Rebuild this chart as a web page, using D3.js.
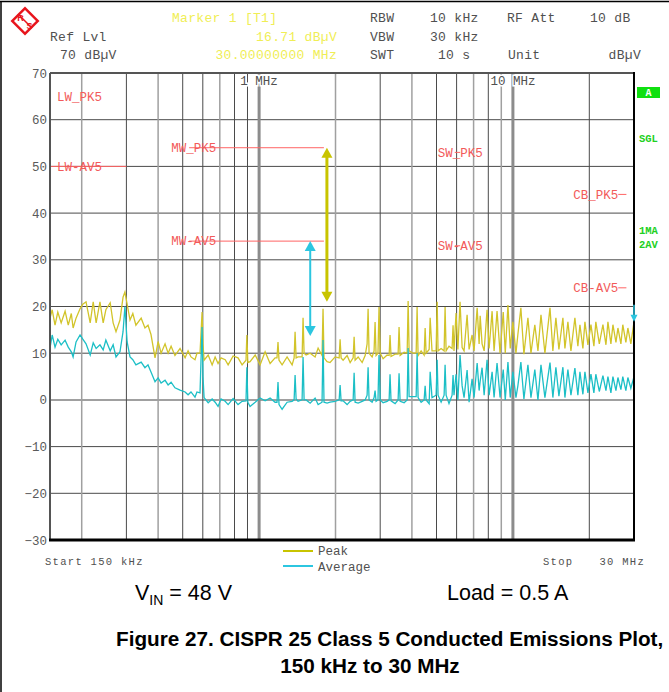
<!DOCTYPE html>
<html>
<head>
<meta charset="utf-8">
<script src="https://cdn.jsdelivr.net/npm/d3@7"></script>
<style>
  body { margin: 0; background: #fff; }
  svg { display: block; }
  .mono { font-family: "Liberation Mono", "DejaVu Sans Mono", monospace; }
  .sans { font-family: "Liberation Sans", Arial, sans-serif; }
</style>
</head>
<body>
<svg id="chart" width="669" height="692"></svg>
<script>
// sweep points (MHz) and the two detector traces (dBuV)
const freqMHz = [
  0.150,0.153,0.157,0.161,0.166,0.172,0.177,0.182,0.185,0.190,0.197,0.202,0.208,0.216,0.222,0.228,
  0.236,0.243,0.249,0.259,0.266,0.273,0.283,0.291,0.296,0.302,0.310,0.318,0.327,0.343,0.355,0.365,
  0.375,0.389,0.400,0.411,0.426,0.438,0.450,0.466,0.488,0.511,0.525,0.539,0.559,0.569,
  0.585,0.590,0.596,0.601,0.607,0.630,0.653,0.671,0.689,0.708,0.735,0.755,0.790,0.826,0.857,0.888,
  0.895,0.903,0.921,0.965,1.009,1.056,1.105,1.156,1.176,1.187,1.198,1.232,1.289,1.349,1.374,1.386,
  1.399,1.424,1.477,1.490,1.504,1.532,1.589,1.662,1.708,1.770,1.786,1.802,1.853,1.904,1.993,2.067,
  2.085,2.104,
  2.143,2.222,2.284,2.347,2.368,2.389,2.456,2.547,2.617,2.664,2.688,2.712,2.788,2.838,2.864,2.890,
  2.940,2.968,3.000,3.080,3.195,3.253,3.280,3.310,3.434,3.529,3.560,3.594,3.727,3.831,3.865,3.900,
  4.044,4.157,4.193,4.231,4.349,4.469,4.510,4.550,4.677,4.720,4.800,4.982,5.030,5.070,5.214,5.357,
  5.405,5.455,5.600,5.759,5.810,5.860,5.970,6.070,6.190,6.309,6.420,6.600,6.720,6.906,7.030,7.230,
  7.360,7.430,7.560,7.703,7.910,8.059,
  8.28,8.43,8.66,8.90,9.16,9.33,9.56,9.76,10.0,10.28,10.46,10.75,11.05,11.46,11.78,12.2,
  12.55,12.9,13.37,14.0,14.37,14.77,15.18,15.74,16.03,16.47,16.93,17.55,18.03,18.37,18.87,19.22,
  19.75,20.3,20.85,21.22,21.9,22.63,23.26,23.68,24.33,24.78,25.47,25.93,26.64,27.1,27.87,28.38,
  29.15,30.0
];

const peakDb = [
  17.5,19.3,16.0,18.8,16.5,19.0,16.0,18.5,15.4,17.5,19.5,20.5,21.0,16.5,21.0,16.5,
  21.0,16.5,19.3,20.8,16.5,14.6,17.1,22.0,23.1,20.5,17.1,18.5,16.0,17.5,15.4,16.0,
  14.0,9.0,12.5,10.0,12.0,10.0,11.5,9.5,11.0,9.0,10.5,9.2,8.6,10.0,
  10.0,14.0,18.8,12.0,8.5,9.6,7.5,9.2,7.8,9.0,8.6,7.5,9.4,9.0,7.5,8.5,
  13.9,8.0,8.2,9.6,7.5,10.3,7.8,9.0,9.0,12.4,8.5,7.5,9.2,7.5,9.0,14.6,
  9.0,9.2,9.2,17.6,10.0,9.6,10.0,9.2,11.1,9.5,19.5,9.0,8.2,8.0,9.2,9.0,
  13.0,9.0,
  8.5,9.5,8.0,9.0,13.5,8.5,9.2,8.0,9.5,12.0,19.5,10.0,9.2,10.5,16.7,9.5,
  10.0,19.9,10.0,8.8,9.6,9.5,13.9,9.3,9.8,9.8,15.6,9.5,10.2,10.0,21.2,10.5,
  10.0,10.0,19.9,9.5,10.5,9.6,15.4,10.0,10.8,17.6,10.5,10.5,21.0,10.5,11.0,10.5,
  19.9,10.5,11.5,11.0,16.0,10.5,18.6,10.8,21.0,11.2,10.5,18.2,10.8,13.9,10.5,19.7,
  12.0,18.0,12.0,10.5,19.3,11.0,
  19.0,10.5,19.0,10.0,18.8,10.0,20.3,11.0,16.7,10.0,14.0,19.7,9.8,17.6,10.0,16.1,
  10.5,18.2,10.0,19.7,10.5,17.6,10.8,17.6,11.0,16.7,10.5,17.6,11.5,16.1,11.0,16.7,
  11.8,16.1,11.5,16.7,12.0,16.1,11.8,16.7,12.0,16.1,12.3,15.4,12.0,16.1,12.3,15.4,
  12.0,16.71
];

const avgDb = [
  11.1,13.9,11.3,13.0,11.8,12.8,11.3,10.3,9.2,12.4,13.9,13.0,12.0,9.6,12.2,11.0,
  11.8,10.7,12.8,10.5,11.8,9.2,10.3,14.6,20.0,12.4,9.2,8.6,7.5,8.1,6.9,7.5,
  6.0,3.9,4.7,3.6,4.2,3.2,3.8,2.6,2.1,1.7,1.1,1.7,0.6,1.7,
  1.5,8.0,15.6,5.0,0.5,-0.6,0.2,-0.5,-1.4,0.2,-0.3,-1.0,0.3,-1.0,-0.3,-0.2,
  7.0,-0.5,-1.4,-0.5,0.4,-0.2,0.4,-0.5,-0.5,3.8,-1.0,-2.0,-0.5,-0.3,0.0,5.3,
  0.2,-0.3,0.0,9.2,0.0,0.0,-0.7,0.4,-1.0,-0.5,12.8,-0.5,-0.7,-0.5,-0.3,0.0,
  3.2,-0.2,
  -0.2,-1.0,-0.3,0.0,5.8,-0.5,-0.7,-0.3,0.0,1.0,7.0,0.0,-0.5,0.5,2.0,-0.3,
  0.0,9.6,0.0,-0.6,-0.3,0.0,5.5,-0.2,-0.8,0.0,5.7,-0.3,-0.6,0.0,11.1,0.7,
  0.7,0.7,10.0,0.5,-0.5,0.0,3.0,0.0,-0.8,6.0,0.5,1.0,8.6,1.0,-0.5,1.0,
  7.5,1.0,-0.8,1.0,5.3,1.0,5.5,0.0,9.6,3.0,0.5,6.4,-0.5,4.5,0.5,7.9,
  2.0,4.0,6.9,1.0,8.6,1.0,
  6.0,0.5,7.9,0.5,6.5,0.0,8.1,0.5,6.0,0.5,3.0,8.1,0.2,7.5,0.5,6.5,
  0.0,7.5,0.5,8.0,0.5,7.0,0.8,7.0,0.5,6.5,1.0,6.8,1.0,6.0,1.2,6.0,
  1.5,5.5,1.5,5.5,1.8,5.2,2.0,5.0,1.5,5.0,2.0,4.8,2.2,5.0,2.0,4.8,
  2.5,5.0
];

// CISPR 25 class 5 limit bands
const bandNames = ["LW", "MW", "SW", "CB"];
const bandStartMHz = [0.15, 0.53, 5.9, 26];
const bandStopMHz = [0.30, 1.8, 6.2, 28];
const peakLimitDb = [70, 54, 53, 44];
const avgLimitDb = [50, 34, 33, 24];

const yTicks = [70, 60, 50, 40, 30, 20, 10, 0, -10, -20, -30];
const gridFreqs = [0.2, 0.3, 0.4, 0.5, 0.6, 0.7, 0.8, 0.9, 2, 3, 4, 5, 6, 7, 8, 9, 20];
const lightGrid = [0.2, 0.4, 0.7, 2, 4, 7, 9];
const majorFreqs = [1, 10];
const majorLabels = ["1 MHz", "10 MHz"];

// delta arrows (MHz, from dB, to dB) and marker 1
const arrowFreqs = [1.85, 1.59];
const arrowFrom = [54, 34];
const arrowTo = [21, 13.7];
const markerFreq = 30;
const markerDb = 16.71;

const peakColor = "#d2c42a";
const avgColor = "#1cbfc6";
const limitColor = "#ff6464";
const textGray = "#505050";

const svg = d3.select("#chart");
const pLeft = 50, pRight = 634, pTop = 73, pBottom = 540;

const x = d3.scaleLog().domain([0.15, 30]).range([pLeft, pRight]);
const y = d3.scaleLinear().domain([-30, 70]).range([pBottom, pTop]);

// outer frame of the page
svg.append("line").attr("x1", 0).attr("x2", 669).attr("y1", 1.5).attr("y2", 1.5)
  .attr("stroke", "#000").attr("stroke-width", 1.5);
svg.append("line").attr("x1", 1).attr("x2", 1).attr("y1", 1).attr("y2", 692)
  .attr("stroke", "#000").attr("stroke-width", 1.5);

// R&S logo
const logo = svg.append("g").attr("transform", "translate(25,21)");
logo.append("path").attr("d", "M0,-14.5 L14.5,0 L0,14.5 L-14.5,0 Z").attr("fill", "#e8141c");
logo.append("path").attr("d", "M0,-11 L11,0 L0,11 L-11,0 Z").attr("fill", "#fff");
logo.append("line").attr("x1", -7).attr("y1", -7).attr("x2", 7).attr("y2", 7)
  .attr("stroke", "#e8141c").attr("stroke-width", 1.5);
logo.append("text").attr("x", -4.5).attr("y", 0).attr("text-anchor", "middle")
  .attr("class", "sans").attr("font-size", 9).attr("font-weight", "bold").attr("fill", "#e8141c").text("R");
logo.append("text").attr("x", 4.5).attr("y", 8).attr("text-anchor", "middle")
  .attr("class", "sans").attr("font-size", 9).attr("font-weight", "bold").attr("fill", "#e8141c").text("S");

// header block
function hdr(t, px, py, color, anchor) {
  svg.append("text").attr("class", "mono")
    .attr("x", px).attr("y", py)
    .attr("font-size", 13).attr("letter-spacing", 0.3)
    .attr("text-anchor", anchor || "start")
    .attr("fill", color || textGray)
    .text(t);
}
const yel = "#f0ee55";
hdr("Marker 1 [T1]", 172, 22, yel);
hdr("RBW", 370, 22); hdr("10 kHz", 430, 22); hdr("RF Att", 507, 22); hdr("10 dB", 590, 22);
hdr("Ref Lvl", 50, 41); hdr("16.71 dBµV", 337, 41, yel, "end");
hdr("VBW", 370, 41); hdr("30 kHz", 430, 41);
hdr("70 dBµV", 60, 59); hdr("30.00000000 MHz", 337, 59, yel, "end");
hdr("SWT", 370, 59); hdr("10 s", 438, 59); hdr("Unit", 508, 59); hdr("dBµV", 641, 59, textGray, "end");

// grid
const grid = svg.append("g");
grid.selectAll(".hg").data(yTicks.filter(v => v !== 70 && v !== -30))
  .enter().append("line")
  .attr("x1", pLeft).attr("x2", pRight)
  .attr("y1", d => y(d)).attr("y2", d => y(d))
  .attr("stroke", d => d === 0 ? "#a0a0a0" : "#4a4a4a")
  .attr("stroke-width", d => d === 0 ? 2 : 1);
grid.selectAll(".vg").data(gridFreqs)
  .enter().append("line")
  .attr("x1", d => x(d)).attr("x2", d => x(d))
  .attr("y1", pTop).attr("y2", pBottom)
  .attr("stroke", d => lightGrid.includes(d) ? "#a0a0a0" : "#4a4a4a")
  .attr("stroke-width", d => lightGrid.includes(d) ? 1.5 : 1);
grid.selectAll(".mg").data(majorFreqs)
  .enter().append("line")
  .attr("x1", d => x(d)).attr("x2", d => x(d))
  .attr("y1", pTop).attr("y2", pBottom)
  .attr("stroke", "#8c8c8c").attr("stroke-width", 3);

// y axis labels
const yAxis = svg.append("g")
  .attr("transform", `translate(${pLeft - 2},0)`)
  .call(d3.axisLeft(y).tickValues(yTicks).tickSize(0).tickPadding(1).tickFormat(d3.format("d")));
yAxis.select(".domain").remove();
yAxis.selectAll("text").attr("class", "mono").attr("font-size", 12.5).attr("fill", "#5a5a5a");

// limit lines
const limits = svg.append("g");
bandNames.forEach((b, i) => {
  [peakLimitDb[i], avgLimitDb[i]].forEach(lv => {
    limits.append("line")
      .attr("x1", x(bandStartMHz[i])).attr("x2", x(bandStopMHz[i]))
      .attr("y1", y(lv)).attr("y2", y(lv))
      .attr("stroke", limitColor).attr("stroke-width", 1);
  });
});
// label placement relative to the start of each band line
const labelDx = [7, -18, -17, 0];
const labelAnchor = ["start", "start", "start", "end"];
bandNames.forEach((b, i) => {
  const lx = x(bandStartMHz[i]) + labelDx[i];
  [[b + "_PK5", peakLimitDb[i]], [b + "-AV5", avgLimitDb[i]]].forEach(([t, lv]) => {
    limits.append("text").attr("class", "mono")
      .attr("x", lx).attr("y", Math.max(y(lv), pTop + 24)).attr("dy", "0.35em")
      .attr("text-anchor", labelAnchor[i])
      .attr("font-size", 12.5).attr("fill", "#f25a5a")
      .text(t);
  });
});

// frequency labels inside the plot
svg.selectAll(".ml").data(majorFreqs)
  .enter().append("text").attr("class", "mono")
  .attr("x", d => x(d)).attr("y", pTop + 12).attr("text-anchor", "middle")
  .attr("font-size", 12.5).attr("fill", textGray)
  .attr("stroke", "#fff").attr("stroke-width", 3).attr("paint-order", "stroke")
  .text((d, i) => majorLabels[i]);

// traces
svg.append("clipPath").attr("id", "plotclip").append("rect")
  .attr("x", pLeft).attr("y", pTop).attr("width", pRight - pLeft + 1).attr("height", pBottom - pTop);
const line = d3.line().x(d => x(d[0])).y(d => y(d[1]));
const traces = svg.append("g").attr("clip-path", "url(#plotclip)");
traces.append("path").datum(freqMHz.map((f, i) => [f, peakDb[i]]))
  .attr("d", line).attr("fill", "none").attr("stroke", peakColor).attr("stroke-width", 1.3);
traces.append("path").datum(freqMHz.map((f, i) => [f, avgDb[i]]))
  .attr("d", line).attr("fill", "none").attr("stroke", avgColor).attr("stroke-width", 1.3);

// border
svg.append("line").attr("x1", pLeft).attr("x2", pRight).attr("y1", pTop).attr("y2", pTop)
  .attr("stroke", "#555").attr("stroke-width", 2);
svg.append("line").attr("x1", pLeft).attr("x2", pLeft).attr("y1", pTop).attr("y2", pBottom)
  .attr("stroke", "#555").attr("stroke-width", 2);
svg.append("line").attr("x1", pRight).attr("x2", pRight).attr("y1", pTop - 1).attr("y2", pBottom)
  .attr("stroke", "#000").attr("stroke-width", 2);
svg.append("line").attr("x1", pLeft - 1).attr("x2", pRight + 1).attr("y1", pBottom).attr("y2", pBottom)
  .attr("stroke", "#000").attr("stroke-width", 3);

// delta arrows
const arrowColors = ["#c8c400", "#2cc6e0"];
const arrowWidth = [3, 2];
arrowFreqs.forEach((f, i) => {
  const ax = x(f), y1 = y(arrowFrom[i]), y2 = y(arrowTo[i]);
  const g = svg.append("g").attr("fill", arrowColors[i]);
  g.append("line").attr("x1", ax).attr("x2", ax).attr("y1", y1 + 8).attr("y2", y2 - 8)
    .attr("stroke", arrowColors[i]).attr("stroke-width", arrowWidth[i]);
  g.append("path").attr("d", `M${ax},${y1} L${ax + 5.5},${y1 + 10} L${ax - 5.5},${y1 + 10} Z`);
  g.append("path").attr("d", `M${ax},${y2} L${ax + 5.5},${y2 - 10} L${ax - 5.5},${y2 - 10} Z`);
});

// marker 1
const mx = x(markerFreq), my = y(markerDb);
svg.append("line").attr("x1", mx).attr("x2", mx).attr("y1", my - 17).attr("y2", my - 6)
  .attr("stroke", "#2cc6e0").attr("stroke-width", 1.5);
svg.append("path").attr("d", `M${mx},${my} L${mx + 3.5},${my - 7} L${mx - 3.5},${my - 7} Z`)
  .attr("fill", "#2cc6e0");

// right-hand status panel
svg.append("rect").attr("x", 637).attr("y", 87).attr("width", 23).attr("height", 11).attr("fill", "#10e010");
svg.append("text").attr("class", "mono").attr("x", 648.5).attr("y", 96).attr("text-anchor", "middle")
  .attr("font-size", 10).attr("font-weight", "bold").attr("fill", "#fff").text("A");
[["SGL", 142], ["1MA", 234], ["2AV", 248]].forEach(([t, py]) => {
  svg.append("text").attr("class", "mono").attr("x", 639).attr("y", py)
    .attr("font-size", 10.5).attr("font-weight", "bold").attr("fill", "#22d022").text(t);
});

// legend and sweep range
svg.append("line").attr("x1", 283).attr("x2", 313).attr("y1", 551).attr("y2", 551)
  .attr("stroke", "#c8c400").attr("stroke-width", 2);
svg.append("line").attr("x1", 283).attr("x2", 313).attr("y1", 566).attr("y2", 566)
  .attr("stroke", "#2cc6e0").attr("stroke-width", 2);
svg.append("text").attr("class", "mono").attr("x", 318).attr("y", 555)
  .attr("font-size", 12.5).attr("fill", textGray).text("Peak");
svg.append("text").attr("class", "mono").attr("x", 318).attr("y", 571)
  .attr("font-size", 12.5).attr("fill", textGray).text("Average");
svg.append("text").attr("class", "mono").attr("x", 45).attr("y", 565)
  .attr("font-size", 10.5).attr("letter-spacing", 1.3).attr("fill", textGray).text("Start 150 kHz");
svg.append("text").attr("class", "mono").attr("x", 543).attr("y", 565)
  .attr("font-size", 10.5).attr("letter-spacing", 1.3).attr("fill", textGray).text("Stop");
svg.append("text").attr("class", "mono").attr("x", 645).attr("y", 565).attr("text-anchor", "end")
  .attr("font-size", 10.5).attr("letter-spacing", 1.3).attr("fill", textGray).text("30 MHz");

// conditions and caption
const vin = svg.append("text").attr("class", "sans").attr("x", 135).attr("y", 600)
  .attr("font-size", 21.5).attr("fill", "#000");
vin.append("tspan").text("V");
vin.append("tspan").attr("font-size", 14).attr("dy", 5).text("IN");
vin.append("tspan").attr("dy", -5).text(" = 48 V");
svg.append("text").attr("class", "sans").attr("x", 447).attr("y", 600)
  .attr("font-size", 21.5).attr("fill", "#000").text("Load = 0.5 A");
svg.append("text").attr("class", "sans").attr("x", 116).attr("y", 646)
  .attr("font-size", 20.7).attr("font-weight", "bold").attr("fill", "#000")
  .text("Figure 27. CISPR 25 Class 5 Conducted Emissions Plot,");
svg.append("text").attr("class", "sans").attr("x", 370).attr("y", 673).attr("text-anchor", "middle")
  .attr("font-size", 20.7).attr("font-weight", "bold").attr("fill", "#000")
  .text("150 kHz to 30 MHz");
</script>
</body>
</html>
